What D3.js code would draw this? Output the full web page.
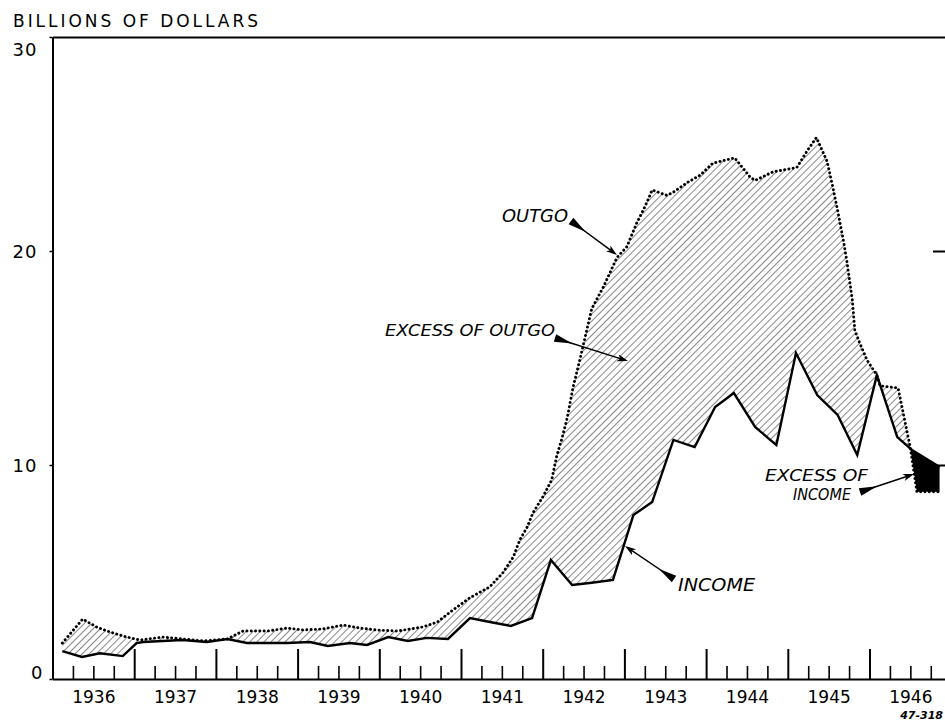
<!DOCTYPE html>
<html>
<head>
<meta charset="utf-8">
<script src="https://cdn.jsdelivr.net/npm/d3@7"></script>
<style>
  body { margin: 0; background: #fff; }
  svg { display: block; font-family: "DejaVu Sans", sans-serif; }
</style>
</head>
<body>
<div id="chart"></div>
<script>
// Federal outgo and income, billions of dollars (dates as decimal years)
const outgoDates = [1936.12, 1936.37, 1936.54, 1936.70, 1936.91, 1937.07, 1937.35, 1937.60, 1937.84,
  1938.14, 1938.33, 1938.63, 1938.87, 1939.07, 1939.31, 1939.56, 1939.76, 1939.97, 1940.22, 1940.53,
  1940.71, 1940.90, 1941.11, 1941.35, 1941.51, 1941.64, 1941.72, 1941.81, 1941.88, 1942.00, 1942.11,
  1942.17, 1942.24, 1942.30, 1942.37, 1942.46, 1942.60, 1942.74, 1942.91, 1943.03, 1943.15, 1943.25,
  1943.34, 1943.52, 1943.60, 1943.77, 1943.93, 1944.08, 1944.35, 1944.54, 1944.60, 1944.82, 1945.11,
  1945.24, 1945.35, 1945.48, 1945.55, 1945.61, 1945.68, 1945.72, 1945.79, 1945.82, 1945.88, 1945.97,
  1946.09, 1946.13, 1946.35, 1946.50, 1946.58, 1946.86];
const outgoValues = [1.68, 2.8, 2.43, 2.2, 1.96, 1.82, 1.96, 1.87, 1.78,
  1.87, 2.24, 2.24, 2.38, 2.29, 2.34, 2.52, 2.38, 2.29, 2.24, 2.43,
  2.66, 3.22, 3.8, 4.3, 4.95, 5.7, 6.5, 7.1, 7.76, 8.5, 9.3,
  10.4, 11.3, 12.2, 13.6, 15.0, 17.3, 18.3, 19.7, 20.2, 21.3, 22.06,
  22.85, 22.6, 22.75, 23.2, 23.55, 24.1, 24.35, 23.45, 23.3, 23.7, 23.9,
  24.7, 25.3, 24.2, 23.0, 21.9, 20.5, 19.6, 17.7, 16.3, 15.7, 14.9,
  14.2, 13.7, 13.6, 10.8, 8.75, 8.75];

const incomeDates = [1936.12, 1936.36, 1936.58, 1936.86, 1937.03, 1937.11, 1937.59, 1937.89,
  1938.14, 1938.38, 1938.87, 1939.15, 1939.37, 1939.64, 1939.85, 1940.11, 1940.35, 1940.58, 1940.84,
  1941.11, 1941.37, 1941.61, 1941.87, 1942.10, 1942.36, 1942.60, 1942.86, 1943.11, 1943.34, 1943.60,
  1943.86, 1944.11, 1944.34, 1944.60, 1944.86, 1945.10, 1945.36, 1945.61, 1945.85, 1946.09, 1946.34,
  1946.52, 1946.86];
const incomeValues = [1.3, 1.03, 1.2, 1.07, 1.68, 1.73, 1.82, 1.73,
  1.87, 1.68, 1.68, 1.73, 1.54, 1.68, 1.59, 1.96, 1.78, 1.92, 1.87,
  2.85, 2.65, 2.48, 2.85, 5.56, 4.39, 4.5, 4.63, 7.66, 8.27, 11.17,
  10.84, 12.71, 13.36, 11.78, 10.93, 15.23, 13.27, 12.34, 10.47, 14.2, 11.3,
  10.7, 9.9];

const yearLabels = [1936, 1937, 1938, 1939, 1940, 1941, 1942, 1943, 1944, 1945, 1946];
const yTicks = [0, 10, 20, 30];

class BudgetChart {
    constructor(containerId) {
        this.container = d3.select(`#${containerId}`);
        this.width = 945;
        this.height = 721;

        this.outgo = outgoDates.map((d, i) => ({ date: d, value: outgoValues[i] }));
        this.income = incomeDates.map((d, i) => ({ date: d, value: incomeValues[i] }));

        this.setupChart();
        this.drawAreas();
        this.drawLines();
        this.drawAxes();
        this.drawAnnotations();
    }

    setupChart() {
        this.svg = this.container
            .append("svg")
            .attr("width", this.width)
            .attr("height", this.height);

        this.svg.append("rect")
            .attr("width", this.width).attr("height", this.height)
            .attr("fill", "#fff");

        // one year = 81.7 px, 1936 starts on the left axis
        this.x = d3.scaleLinear().domain([1936, 1947]).range([52.5, 52.5 + 11 * 81.7]);
        this.y = d3.scaleLinear().domain([0, 30]).range([679, 37]);

        const defs = this.svg.append("defs");
        defs.append("pattern")
            .attr("id", "hatch")
            .attr("patternUnits", "userSpaceOnUse")
            .attr("width", 5).attr("height", 5)
            .attr("patternTransform", "rotate(45)")
            .append("line")
            .attr("x1", 0).attr("y1", 0).attr("x2", 0).attr("y2", 5)
            .attr("stroke", "#111").attr("stroke-width", 1);

        this.belowArea = d3.area()
            .x(d => this.x(d.date))
            .y0(this.y(0))
            .y1(d => this.y(d.value));
        this.aboveArea = d3.area()
            .x(d => this.x(d.date))
            .y0(this.y(30))
            .y1(d => this.y(d.value));

        defs.append("clipPath").attr("id", "below-outgo")
            .append("path").attr("d", this.belowArea(this.outgo));
        defs.append("clipPath").attr("id", "above-outgo")
            .append("path").attr("d", this.aboveArea(this.outgo));
    }

    drawAreas() {
        // excess of outgo: hatched
        this.svg.append("path")
            .attr("d", this.aboveArea(this.income))
            .attr("fill", "url(#hatch)")
            .attr("clip-path", "url(#below-outgo)");

        // excess of income: solid
        this.svg.append("path")
            .attr("d", this.belowArea(this.income))
            .attr("fill", "#000")
            .attr("clip-path", "url(#above-outgo)");
    }

    drawLines() {
        const line = d3.line()
            .x(d => this.x(d.date))
            .y(d => this.y(d.value));

        this.svg.append("path")
            .attr("d", line(this.income))
            .attr("fill", "none")
            .attr("stroke", "#000")
            .attr("stroke-width", 2.4);

        this.svg.append("path")
            .attr("d", line(this.outgo))
            .attr("fill", "none")
            .attr("stroke", "#000")
            .attr("stroke-width", 2.9)
            .attr("stroke-linecap", "round")
            .attr("stroke-dasharray", "0.1 4.2");
    }

    drawAxes() {
        const x = this.x, y = this.y;
        const style = g => g.attr("font-family", null).attr("font-size", null)
            .call(s => s.selectAll("line,path").attr("stroke", "#000"));

        // bottom: year boundaries and quarters, ticks pointing up
        this.svg.append("g")
            .attr("transform", `translate(0,${y(0)})`)
            .call(d3.axisTop(x).tickValues(d3.range(1937, 1947)).tickSize(30).tickSizeOuter(0).tickFormat(""))
            .call(style)
            .call(g => g.select(".domain").attr("stroke-width", 2.2))
            .call(g => g.selectAll(".tick line").attr("stroke-width", 2));

        const quarters = d3.range(1936, 1947, 0.25).filter(d => d % 1 !== 0);
        this.svg.append("g")
            .attr("transform", `translate(0,${y(0)})`)
            .call(d3.axisTop(x).tickValues(quarters).tickSize(13).tickFormat(""))
            .call(style)
            .call(g => g.select(".domain").remove())
            .call(g => g.selectAll(".tick line").attr("stroke-width", 1.6));

        this.svg.append("g")
            .attr("transform", `translate(0,${y(0)})`)
            .call(d3.axisBottom(x).tickValues(yearLabels.map(d => d + 0.5)).tickSize(0).tickFormat(d => Math.floor(d)))
            .call(style)
            .call(g => g.select(".domain").remove())
            .call(g => g.selectAll("text")
                .attr("y", 24).attr("dy", 0)
                .attr("font-size", 17).attr("fill", "#000"));

        // top frame
        this.svg.append("g")
            .attr("transform", `translate(0,${y(30)})`)
            .call(d3.axisBottom(x).tickValues([]).tickSizeOuter(0))
            .call(style)
            .call(g => g.select(".domain").attr("stroke-width", 2));

        // left axis
        this.svg.append("g")
            .attr("transform", `translate(${x(1936)},0)`)
            .call(d3.axisLeft(y).tickValues(yTicks).tickSize(3).tickSizeOuter(0).tickPadding(12).tickFormat(d3.format("d")))
            .call(style)
            .call(g => g.select(".domain").attr("stroke-width", 2))
            .call(g => g.selectAll(".tick line").attr("stroke-width", 1.5))
            .call(g => g.selectAll("text")
                .attr("font-size", 18).attr("fill", "#000").attr("letter-spacing", 1)
                .attr("dx", d => d === 0 ? 6 : 0)
                .attr("dy", d => d === 30 ? "1.05em" : d === 0 ? "-0.05em" : "0.36em"));

        // right axis (frame edge sits just past the picture)
        this.svg.append("g")
            .attr("transform", `translate(946,0)`)
            .call(d3.axisLeft(y).tickValues([10, 20]).tickSize(13).tickSizeOuter(0).tickFormat(""))
            .call(style)
            .call(g => g.selectAll("line,path").attr("stroke-width", 2));

        this.svg.append("text")
            .attr("x", 13).attr("y", 27)
            .attr("font-size", 17)
            .attr("textLength", 245).attr("lengthAdjust", "spacing")
            .text("BILLIONS OF DOLLARS");

        this.svg.append("text")
            .attr("x", 943).attr("y", 719)
            .attr("text-anchor", "end")
            .attr("font-size", 11).attr("font-style", "italic").attr("font-weight", "bold")
            .text("47-318");
    }

    arrow(g, x1, y1, x2, y2) {
        const len = Math.hypot(x2 - x1, y2 - y1);
        const ux = (x2 - x1) / len, uy = (y2 - y1) / len;
        const nx = -uy, ny = ux;
        const wl = 18, ww = 4, hl = 11, hw = 3.6;
        g.append("path")
            .attr("d", `M${x1 + nx * ww},${y1 + ny * ww}L${x1 + ux * wl},${y1 + uy * wl}L${x1 - nx * ww},${y1 - ny * ww}Z`)
            .attr("fill", "#000");
        g.append("line")
            .attr("x1", x1).attr("y1", y1).attr("x2", x2 - ux * 3).attr("y2", y2 - uy * 3)
            .attr("stroke", "#000").attr("stroke-width", 1.5);
        const bx = x2 - ux * hl, by = y2 - uy * hl;
        g.append("path")
            .attr("d", `M${x2},${y2}L${bx + nx * hw},${by + ny * hw}L${bx + ux * 3},${by + uy * 3}L${bx - nx * hw},${by - ny * hw}Z`)
            .attr("fill", "#000");
    }

    drawAnnotations() {
        const g = this.svg.append("g")
            .attr("font-size", 16).attr("font-style", "italic");

        const labels = [
            { text: "OUTGO", x: 502, y: 222, w: 66, size: 17 },
            { text: "EXCESS OF OUTGO", x: 385, y: 336, w: 170, size: 16 },
            { text: "INCOME", x: 678, y: 591, w: 77, size: 17 },
            { text: "EXCESS OF", x: 765, y: 481, w: 103, size: 16 },
            { text: "INCOME", x: 793, y: 500, w: 58, size: 15 }
        ];
        g.selectAll("text").data(labels).join("text")
            .attr("x", d => d.x).attr("y", d => d.y)
            .attr("font-size", d => d.size)
            .attr("textLength", d => d.w).attr("lengthAdjust", "spacingAndGlyphs")
            .text(d => d.text);

        this.arrow(g, 571, 221, 617, 255);
        this.arrow(g, 555, 338, 628, 361);
        this.arrow(g, 674, 579, 625, 546);
        this.arrow(g, 860, 492, 914, 474);
    }
}

new BudgetChart("chart");
</script>
</body>
</html>
